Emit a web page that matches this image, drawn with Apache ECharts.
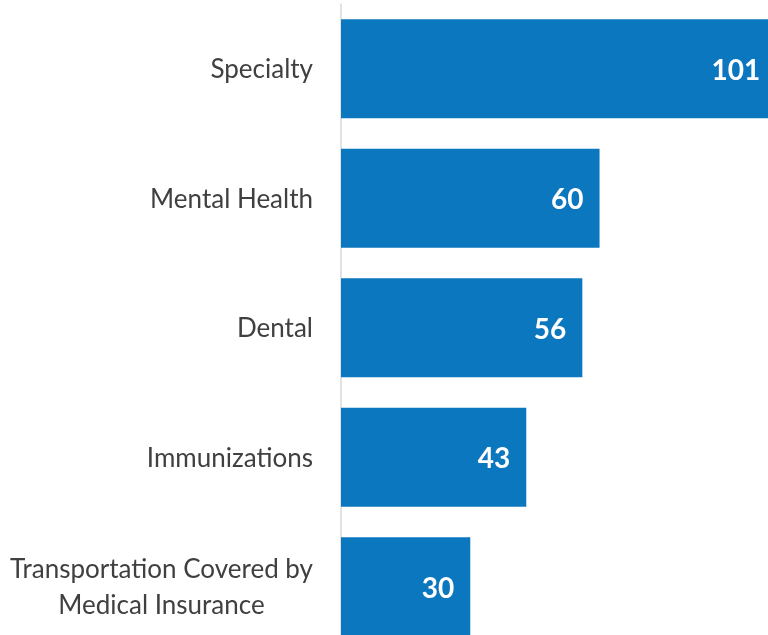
<!DOCTYPE html>
<html>
<head>
<meta charset="utf-8">
<style>
  html, body { margin: 0; padding: 0; background: #ffffff; }
  /* viewport window; the chart canvas runs past its right and bottom edges */
  #frame { width: 768px; height: 635px; overflow: hidden; position: relative; }
  #chart { width: 830px; height: 660px; position: absolute; left: 0; top: 0; }
</style>
<script src="https://cdn.jsdelivr.net/npm/echarts@6/dist/echarts.min.js"></script>
</head>
<body>
<div id="frame"><div id="chart"></div></div>
<script>
// Service categories, listed top to bottom
const categories = [
  'Specialty',
  'Mental Health',
  'Dental',
  'Immunizations',
  'Transportation Covered by\nMedical Insurance'
];
// Counts per category
const counts = [101, 60, 56, 43, 30];

const chart = echarts.init(document.getElementById('chart'));

chart.setOption({
  animation: false,
  backgroundColor: '#ffffff',
  grid: { left: 341, top: 4, width: 474, height: 647.5, containLabel: false },
  xAxis: {
    type: 'value',
    min: 0,
    max: 110,
    show: false
  },
  yAxis: {
    type: 'category',
    data: categories,
    inverse: true,
    axisLine: { show: true, lineStyle: { color: '#d9d9d9', width: 1.5 } },
    axisTick: { show: false },
    splitLine: { show: false },
    axisLabel: {
      margin: 28,
      formatter: v => '{c|' + v + '}',
      rich: {
        c: {
          fontFamily: 'Lato',
          fontSize: 26,
          color: '#404040',
          align: 'center',
          lineHeight: 36,
          padding: [2, 0, 0, 0]
        }
      }
    }
  },
  series: [{
    type: 'bar',
    data: counts,
    barWidth: 99,
    itemStyle: { color: '#0b77be' },
    label: {
      show: true,
      position: 'insideRight',
      distance: 16,
      offset: [0, 2],
      color: '#ffffff',
      fontFamily: 'Lato',
      fontWeight: 'bold',
      fontSize: 28
    }
  }]
});
</script>
</body>
</html>
